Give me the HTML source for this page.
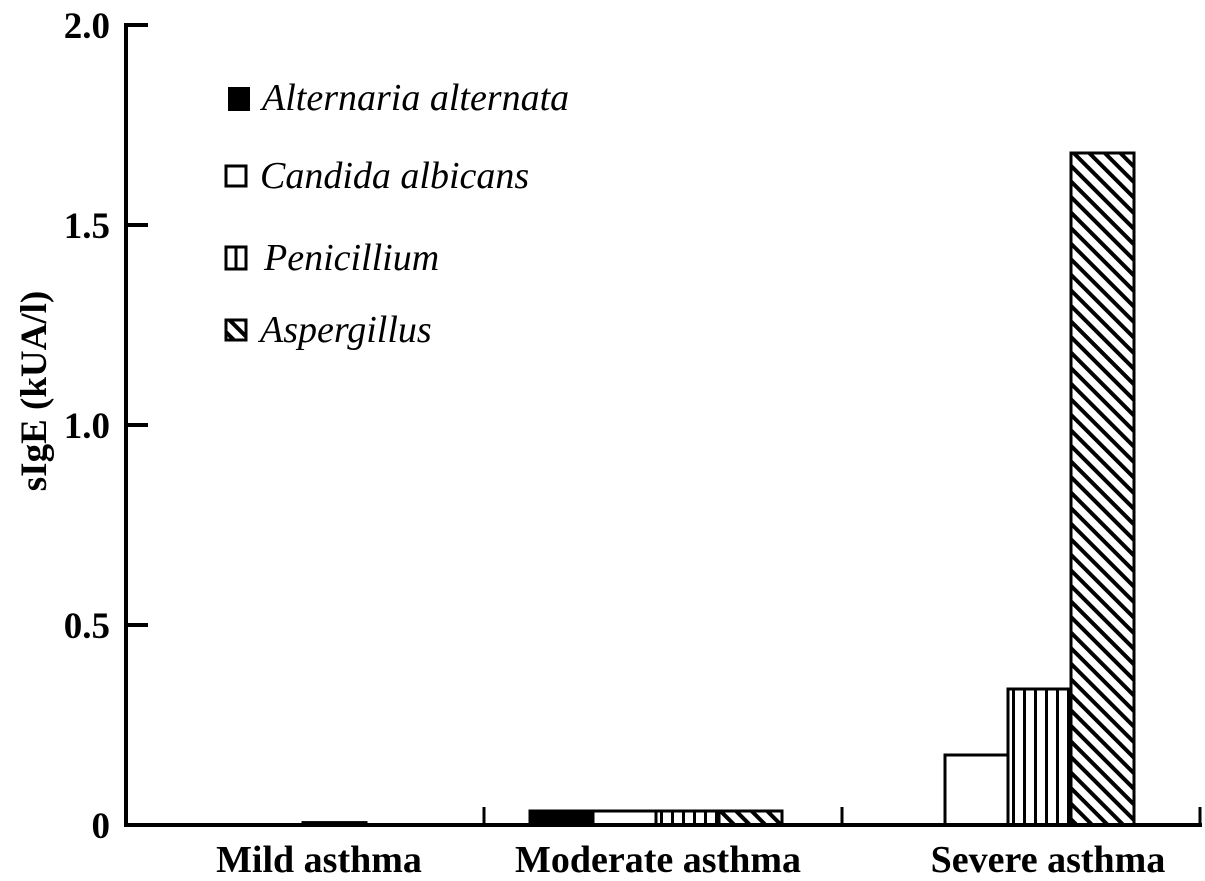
<!DOCTYPE html>
<html><head><meta charset="utf-8"><style>
body{margin:0;background:#fff}
svg{display:block;font-family:"Liberation Serif",serif}
</style></head><body>
<svg id="chart" width="1205" height="881" viewBox="0 0 1205 881">
<defs>
<pattern id="pv" patternUnits="userSpaceOnUse" width="11" height="10"><rect width="11" height="10" fill="#fff"/><rect x="0" width="3" height="10" fill="#000"/></pattern>
<pattern id="pd" patternUnits="userSpaceOnUse" width="11" height="11" patternTransform="rotate(-45)"><rect width="11" height="11" fill="#fff"/><rect x="0" width="4" height="11" fill="#000"/></pattern>
</defs>
<g id="bars"></g>
<g id="axes"></g>
<text x="46" y="391" transform="rotate(-90 46 391)" text-anchor="middle" font-weight="bold" font-size="37">sIgE (kUA/l)</text>
<g>
<rect x="228" y="87" width="22" height="24" fill="#000"/>
<text x="262" y="110" font-style="italic" font-size="38">Alternaria alternata</text>
<rect x="226" y="166" width="20" height="20" fill="#fff" stroke="#000" stroke-width="3"/>
<text x="260" y="188" font-style="italic" font-size="38">Candida albicans</text>
<rect x="226" y="247" width="20" height="22" fill="#fff" stroke="#000" stroke-width="3"/>
<line x1="236" y1="247" x2="236" y2="269" stroke="#000" stroke-width="3"/>
<text x="264" y="270" font-style="italic" font-size="38">Penicillium</text>
<rect x="226" y="320" width="20" height="20" fill="url(#pd)" stroke="#000" stroke-width="3"/>
<text x="260" y="342" font-style="italic" font-size="38">Aspergillus</text>
</g>
</svg>
<script>
const categories = ["Mild asthma", "Moderate asthma", "Severe asthma"];
const seriesNames = ["Alternaria alternata", "Candida albicans", "Penicillium", "Aspergillus"];
const alternaria = [0, 0.035, 0];
const candida = [0, 0.035, 0.175];
const penicillium = [0, 0.035, 0.34];
const aspergillus = [0.006, 0.035, 1.68];
const yTicks = [0, 0.5, 1.0, 1.5, 2.0];
const yTickLabels = ["0", "0.5", "1.0", "1.5", "2.0"];

const NS = "http://www.w3.org/2000/svg";
const x0 = 126, xEnd = 1200, y0 = 825, yTop = 25, yMax = 2.0;
const groupW = (xEnd - x0) / categories.length;
const barW = 63;
const groupStart = [114, 530, 882];
const labelCenter = [319, 658, 1048];
function yScale(v){ return y0 - (v / yMax) * (y0 - yTop); }
function xBar(g, s){ return groupStart[g] + s * barW; }
function mk(tag, attrs, parent){ const e = document.createElementNS(NS, tag); for (const k in attrs) e.setAttribute(k, attrs[k]); parent.appendChild(e); return e; }

const bars = document.getElementById("bars");
const axes = document.getElementById("axes");
const series = [alternaria, candida, penicillium, aspergillus];
const fills = ["#000", "#fff", "url(#pv)", "url(#pd)"];
const keys = ["alternaria", "candida", "penicillium", "aspergillus"];
series.forEach((vals, s) => {
  vals.forEach((v, g) => {
    if (v <= 0) return;
    const y = yScale(v);
    const r = mk("rect", {x: xBar(g, s), y: y, width: barW, height: y0 - y, fill: fills[s], stroke: "#000", "stroke-width": 3}, bars);
    
    
  });
});

const yAxis = mk("line", {x1: x0, y1: yTop - 2, x2: x0, y2: y0 + 2, stroke: "#000", "stroke-width": 4}, axes);


const xAxis = mk("line", {x1: x0 - 2, y1: y0, x2: xEnd + 2, y2: y0, stroke: "#000", "stroke-width": 4}, axes);


yTicks.forEach((t, i) => {
  const y = yScale(t);
  if (t > 0) mk("line", {x1: x0, y1: y, x2: x0 + 22, y2: y, stroke: "#000", "stroke-width": 4}, axes);
  const lbl = mk("text", {x: 110, y: y + 13, "text-anchor": "end", "font-size": 37, "font-weight": "bold"}, axes);
  lbl.textContent = yTickLabels[i];
  
  
});
categories.forEach((c, g) => {
  const xr = x0 + (g + 1) * groupW;
  mk("line", {x1: xr, y1: y0, x2: xr, y2: y0 - 18, stroke: "#000", "stroke-width": 3}, axes);
  const lbl = mk("text", {x: labelCenter[g], y: 872, "text-anchor": "middle", "font-size": 38, "font-weight": "bold"}, axes);
  lbl.textContent = c;
  
  
});
</script>
</body></html>
